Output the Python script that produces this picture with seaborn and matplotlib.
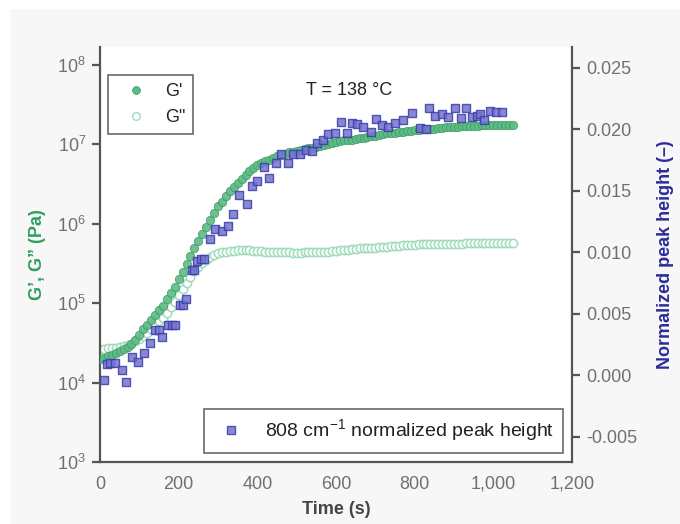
import numpy as np
import pandas as pd
import matplotlib
matplotlib.use('Agg')
import matplotlib.pyplot as plt
import matplotlib.ticker as mticker
from matplotlib.patches import Rectangle
from matplotlib.lines import Line2D
import seaborn as sns

# time grid of the rheometer (s)
time_s = list(range(0, 1060, 10))

# log10 of G' and G'' (Pa)
log_g1 = [4.30, 4.31, 4.33, 4.35, 4.37, 4.40, 4.42, 4.45, 4.49, 4.54,
          4.60, 4.67, 4.73, 4.79, 4.85, 4.91, 4.97, 5.05, 5.13, 5.21,
          5.30, 5.39, 5.49, 5.59, 5.69, 5.78, 5.87, 5.96, 6.05, 6.14,
          6.22, 6.28, 6.35, 6.41, 6.46, 6.52, 6.57, 6.62, 6.67, 6.70,
          6.74, 6.77, 6.79, 6.81, 6.83, 6.85, 6.87, 6.88, 6.90, 6.91,
          6.92, 6.93, 6.94, 6.95, 6.96, 6.97, 6.98, 6.99, 7.01, 7.02,
          7.03, 7.04, 7.05, 7.05, 7.06, 7.07, 7.08, 7.08, 7.09, 7.10,
          7.11, 7.12, 7.13, 7.14, 7.14, 7.15, 7.16, 7.16, 7.17, 7.17,
          7.18, 7.18, 7.19, 7.19, 7.20, 7.20, 7.21, 7.21, 7.22, 7.22,
          7.22, 7.22, 7.23, 7.23, 7.23, 7.23, 7.23, 7.24, 7.24, 7.24,
          7.24, 7.24, 7.24, 7.24, 7.24, 7.24]
log_g2 = [4.42, 4.42, 4.43, 4.43, 4.44, 4.45, 4.46, 4.47, 4.49, 4.52,
          4.55, 4.59, 4.63, 4.67, 4.72, 4.77, 4.82, 4.88, 4.95, 5.02,
          5.10, 5.18, 5.26, 5.33, 5.40, 5.46, 5.51, 5.55, 5.58, 5.61,
          5.63, 5.64, 5.65, 5.66, 5.66, 5.67, 5.67, 5.67, 5.67, 5.66,
          5.66, 5.66, 5.65, 5.65, 5.65, 5.64, 5.64, 5.64, 5.64, 5.63,
          5.63, 5.63, 5.64, 5.64, 5.64, 5.64, 5.65, 5.65, 5.65, 5.66,
          5.66, 5.67, 5.67, 5.67, 5.68, 5.68, 5.69, 5.69, 5.69, 5.70,
          5.70, 5.71, 5.71, 5.71, 5.72, 5.72, 5.72, 5.73, 5.73, 5.73,
          5.73, 5.74, 5.74, 5.74, 5.74, 5.74, 5.75, 5.75, 5.75, 5.75,
          5.75, 5.75, 5.75, 5.76, 5.76, 5.76, 5.76, 5.76, 5.76, 5.76,
          5.76, 5.76, 5.76, 5.76, 5.76, 5.76]

# Raman 808 cm-1 band, normalized peak height
raman_t = [10, 17, 25, 38, 56, 66, 81, 97, 112, 127, 140, 150, 158, 173, 182,
           191, 203, 210, 219, 234, 240, 246, 258, 264, 280, 292, 310, 326, 339,
           353, 373, 386, 400, 417, 430, 447, 460, 477, 491, 508, 524, 539, 551,
           566, 580, 597, 613, 628, 640, 653, 669, 689, 702, 717, 732, 750, 770,
           793, 814, 829, 837, 852, 869, 885, 903, 918, 931, 946, 959, 965, 976,
           992, 1007, 1022]
raman_h = [-0.0004, 0.0009, 0.0010, 0.0010, 0.0004, -0.0006, 0.0015, 0.0011,
           0.0018, 0.0026, 0.0037, 0.0037, 0.0031, 0.0041, 0.0041, 0.0041,
           0.0057, 0.0057, 0.0062, 0.0085, 0.0085, 0.0093, 0.0094, 0.0094,
           0.0111, 0.0119, 0.0117, 0.0121, 0.0131, 0.0146, 0.0139, 0.0154,
           0.0158, 0.0169, 0.0160, 0.0172, 0.0180, 0.0172, 0.0180, 0.0180,
           0.0183, 0.0182, 0.0189, 0.0191, 0.0196, 0.0197, 0.0206, 0.0197,
           0.0205, 0.0204, 0.0202, 0.0198, 0.0208, 0.0203, 0.0202, 0.0205,
           0.0207, 0.0213, 0.0201, 0.0200, 0.0217, 0.0211, 0.0212, 0.0210,
           0.0217, 0.0209, 0.0217, 0.0210, 0.0211, 0.0212, 0.0207, 0.0215,
           0.0214, 0.0214]

rheo = pd.DataFrame({'t': time_s,
                     'G1': 10 ** np.array(log_g1),
                     'G2': 10 ** np.array(log_g2)})
raman = pd.DataFrame({'t': raman_t, 'h': raman_h})

sns.set_style('white')
plt.rcParams['font.family'] = ['Liberation Sans', 'DejaVu Sans']
plt.rcParams['mathtext.fontset'] = 'custom'
plt.rcParams['mathtext.rm'] = 'Liberation Sans'
plt.rcParams['axes.unicode_minus'] = False

GREEN = '#5dbb85'
GREEN_EDGE = '#3d9c66'
LIGHT_GREEN = '#9fdcbb'
BLUE_FACE = '#7474cc'
BLUE_EDGE = '#3c3cae'
SPINE = '#555555'
TICK_TXT = '#707070'

fig = plt.figure(figsize=(6.8, 5.24), dpi=100, facecolor='white')
fig.patches.append(Rectangle((10 / 680, 0), 1, (524 - 9) / 524, transform=fig.transFigure,
                             facecolor='#f7f7f7', edgecolor='none', zorder=-10))
ax1 = fig.add_axes([100 / 680, 62 / 524, 472 / 680, 415 / 524])
ax1.set_facecolor('white')

sns.scatterplot(data=rheo, x='t', y='G2', ax=ax1, marker='o', s=36,
                facecolor='white', edgecolor=LIGHT_GREEN, linewidth=1.1, zorder=2)
sns.scatterplot(data=rheo, x='t', y='G1', ax=ax1, marker='o', s=36,
                color=GREEN, edgecolor=GREEN_EDGE, linewidth=0.6, alpha=0.9, zorder=3)
ax1.set_yscale('log')
ax1.set_ylim(1e3, 10 ** 8.227)
ax1.set_xlim(0, 1200)
ax1.yaxis.set_minor_locator(mticker.NullLocator())
ax1.xaxis.set_major_locator(mticker.MultipleLocator(200))
ax1.xaxis.set_major_formatter(mticker.FuncFormatter(lambda v, p: f'{int(v):,}'))

ax2 = ax1.twinx()
sns.scatterplot(data=raman, x='t', y='h', ax=ax2, marker='s', s=32,
                color=BLUE_FACE, edgecolor=BLUE_EDGE, linewidth=1.0, alpha=0.85, zorder=4)
ax2.set_ylim(-0.00707, 0.02667)
ax2.yaxis.set_major_locator(mticker.FixedLocator([-0.005, 0, 0.005, 0.01, 0.015, 0.02, 0.025]))
ax2.yaxis.set_major_formatter(mticker.FormatStrFormatter('%.3f'))

for ax in (ax1, ax2):
    for side in ('left', 'right', 'bottom'):
        ax.spines[side].set_color(SPINE)
        ax.spines[side].set_linewidth(1.6)
    ax.spines['top'].set_visible(False)
    ax.tick_params(direction='out', length=6, width=1.6, color=SPINE,
                   labelsize=13, labelcolor=TICK_TXT, pad=4)
ax1.spines['right'].set_visible(False)
ax2.spines['left'].set_visible(False)
ax2.spines['bottom'].set_visible(False)

ax1.set_xlabel('Time (s)', fontsize=13, fontweight='bold', color='#444444')
ax1.set_ylabel('G\u2019, G\u201d (Pa)', fontsize=13, fontweight='bold', color='#2e9e5e')
ax2.set_ylabel('Normalized peak height (\u2013)', fontsize=13, fontweight='bold', color='#2b2b9a')
ax1.xaxis.set_label_coords(0.5, -0.095)
ax1.yaxis.set_label_coords(-0.114, 0.5)
ax2.yaxis.set_label_coords(1.18, 0.5)

ax1.text(0.528, 0.894, 'T = 138 \u00b0C', transform=ax1.transAxes, ha='center', va='center',
         fontsize=13, color='#222222')

h1 = [Line2D([], [], ls='none', marker='o', ms=5.5, mfc=GREEN, mec=GREEN_EDGE, mew=0.6),
      Line2D([], [], ls='none', marker='o', ms=5.5, mfc='white', mec=LIGHT_GREEN, mew=1.0)]
leg1 = ax1.legend(h1, ['G\'', 'G"'], loc='upper left', bbox_to_anchor=(0.017, 0.933),
                  borderaxespad=0, fontsize=13, frameon=True, fancybox=False,
                  handlelength=2.2, handletextpad=0.5, labelspacing=0.5, borderpad=0.45)
leg1.get_frame().set_edgecolor('#444444')
leg1.get_frame().set_linewidth(1.2)

h2 = [Line2D([], [], ls='none', marker='s', ms=5.5, mfc=BLUE_FACE, mec=BLUE_EDGE, mew=1.0, alpha=0.85)]
leg2 = ax2.legend(h2, ['808 cm$^{-1}$ normalized peak height'], loc='lower right',
                  bbox_to_anchor=(0.981, 0.022), borderaxespad=0, fontsize=14, frameon=True,
                  fancybox=False, handlelength=1.9, handletextpad=0.8, borderpad=0.45)
leg2.get_frame().set_edgecolor('#444444')
leg2.get_frame().set_linewidth(1.2)
for t in leg1.get_texts() + leg2.get_texts():
    t.set_color('#222222')

fig.savefig('out.png', dpi=100, facecolor=fig.get_facecolor())
